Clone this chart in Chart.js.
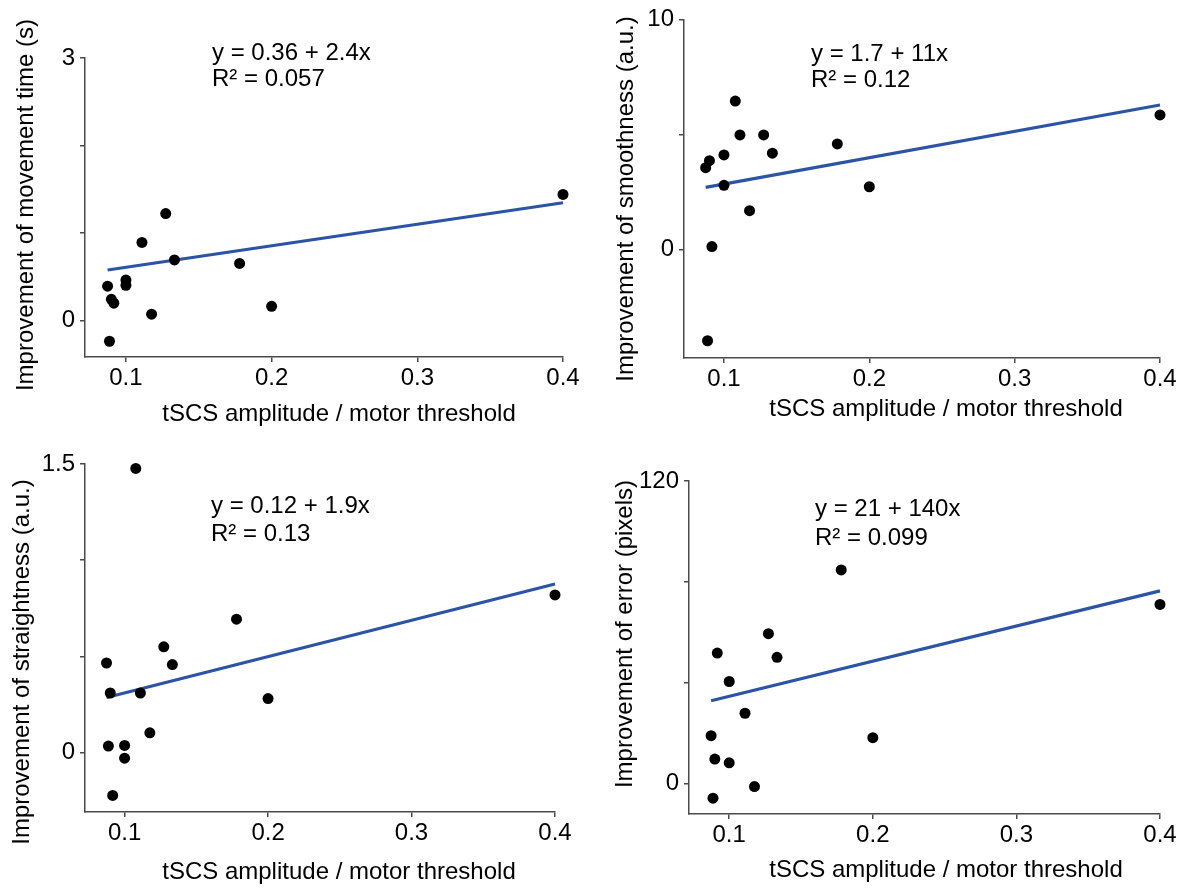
<!DOCTYPE html>
<html lang="en">
<head>
<meta charset="UTF-8">
<title>tSCS amplitude vs improvement</title>
<script src="https://cdn.jsdelivr.net/npm/chart.js@4"></script>
<style>
  body { margin: 0; background: #fff; }
  #wrap { position: relative; width: 1182px; height: 888px; overflow: hidden; font-family: 'Liberation Sans', Arial, sans-serif; color: #000; }
  canvas { position: absolute; }
  .txt { position: absolute; font-size: 24px; line-height: 24px; white-space: nowrap; }
  .ytitle { position: absolute; font-size: 24px; line-height: 24px; white-space: nowrap; transform: translate(-50%, -50%) rotate(-90deg); }
  .xtitle { position: absolute; font-size: 24px; line-height: 24px; white-space: nowrap; transform: translate(-50%, -50%); }
</style>
</head>
<body>
<div id="wrap">
  <canvas id="c1" width="591" height="444" style="left:0;top:0"></canvas>
  <canvas id="c2" width="591" height="444" style="left:591px;top:0"></canvas>
  <canvas id="c3" width="591" height="444" style="left:0;top:444px"></canvas>
  <canvas id="c4" width="591" height="444" style="left:591px;top:444px"></canvas>

  <div class="txt" style="left:212px;top:40px">y = 0.36 + 2.4x</div>
  <div class="txt" style="left:212px;top:66px">R² = 0.057</div>
  <div class="txt" style="left:811px;top:41px">y = 1.7 + 11x</div>
  <div class="txt" style="left:811px;top:67px">R² = 0.12</div>
  <div class="txt" style="left:211px;top:493px">y = 0.12 + 1.9x</div>
  <div class="txt" style="left:211px;top:521px">R² = 0.13</div>
  <div class="txt" style="left:815px;top:496px">y = 21 + 140x</div>
  <div class="txt" style="left:815px;top:525px">R² = 0.099</div>

  <div class="ytitle" style="left:25px;top:205px">Improvement of movement time (s)</div>
  <div class="ytitle" style="left:625px;top:199px">Improvement of smoothness (a.u.)</div>
  <div class="ytitle" style="left:21px;top:662px">Improvement of straightness (a.u.)</div>
  <div class="ytitle" style="left:624px;top:634px">Improvement of error (pixels)</div>

  <div class="xtitle" style="left:339px;top:413px">tSCS amplitude / motor threshold</div>
  <div class="xtitle" style="left:946px;top:408px">tSCS amplitude / motor threshold</div>
  <div class="xtitle" style="left:339px;top:871px">tSCS amplitude / motor threshold</div>
  <div class="xtitle" style="left:946px;top:869px">tSCS amplitude / motor threshold</div>
</div>

<script>
// same 14 participants in every panel, sorted by amplitude
const amplitude   = [0.0874, 0.0887, 0.0900, 0.0917, 0.100, 0.100, 0.1078, 0.111, 0.1176, 0.1273, 0.1333, 0.178, 0.200, 0.400];
const moveTime    = [0.39, -0.24, 0.24, 0.195, 0.46, 0.40, 3.16, 0.89, 0.07, 1.22, 0.69, 0.65, 0.16, 1.44];
const smoothness  = [3.56, -3.96, 3.86, 0.13, 4.11, 2.79, 6.45, 4.98, 1.69, 4.98, 4.19, 4.59, 2.73, 5.85];
const straightness = [0.465, 0.033, 0.309, -0.224, 0.036, -0.030, 1.477, 0.309, 0.102, 0.549, 0.457, 0.693, 0.280, 0.819];
const errorPx     = [18.9, -5.9, 9.6, 51.7, 40.4, 8.1, 123.5, 27.8, -1.3, 59.4, 50.0, 84.7, 18.1, 71.0];

// regression lines as drawn (intercept, slope)
const fitIntercept = [0.36, 1.7, 0.12, 20.6];
const fitSlope     = [2.46, 11.45, 1.89, 139.4];

const xTicks = [0.1, 0.2, 0.3, 0.4];
const xTickLabels = ['0.1', '0.2', '0.3', '0.4'];
const yTicks1 = [0, 1, 2, 3],        yTickLabels1 = ['0', '', '', '3'];
const yTicks2 = [0, 5, 10],          yTickLabels2 = ['0', '', '10'];
const yTicks3 = [0, 0.5, 1, 1.5],    yTickLabels3 = ['0', '', '', '1.5'];
const yTicks4 = [0, 40, 80, 120],    yTickLabels4 = ['0', '', '', '120'];

const AXIS = '#4a4a4a';
const BLUE = '#2c54a5';
const FONT = { family: "'Liberation Sans', Arial, sans-serif", size: 24 };

function makePanel(id, ys, k, yTicks, yLabels, box) {
  const pts = amplitude.map((x, i) => ({ x, y: ys[i] }));
  const x0 = Math.min(...amplitude), x1 = Math.max(...amplitude);
  const fit = [x0, x1].map(x => ({ x, y: fitIntercept[k] + fitSlope[k] * x }));
  const H = 444, W = 591;

  new Chart(document.getElementById(id), {
    type: 'scatter',
    data: {
      datasets: [
        { data: pts, backgroundColor: '#000', borderWidth: 0, pointRadius: 5.5, clip: false },
        { type: 'line', data: fit, borderColor: BLUE, borderWidth: 3.2, pointRadius: 0, fill: false, clip: false }
      ]
    },
    options: {
      responsive: false,
      animation: false,
      devicePixelRatio: 1,
      events: [],
      layout: { autoPadding: false, padding: { left: 0, top: box.top, right: W - box.right, bottom: 0 } },
      plugins: { legend: { display: false }, tooltip: { enabled: false } },
      scales: {
        x: {
          type: 'linear', min: box.xmin, max: 0.4,
          afterBuildTicks: s => { s.ticks = xTicks.map(v => ({ value: v })); },
          afterFit: s => { s.height = H - box.bottom; },
          border: { display: true, color: AXIS, width: 1.5 },
          grid: { drawOnChartArea: false, drawTicks: true, tickLength: 5, color: AXIS, lineWidth: 1.5 },
          ticks: { font: FONT, color: '#000', padding: 2, maxRotation: 0, callback: (v, i) => xTickLabels[i] }
        },
        y: {
          type: 'linear', min: box.ymin, max: yTicks[yTicks.length - 1],
          afterBuildTicks: s => { s.ticks = yTicks.map(v => ({ value: v })); },
          afterFit: s => { s.width = box.left; },
          border: { display: true, color: AXIS, width: 1.5 },
          grid: { drawOnChartArea: false, drawTicks: true, tickLength: 5, color: AXIS, lineWidth: 1.5 },
          ticks: { font: FONT, color: '#000', padding: 5, callback: (v, i) => yLabels[i] }
        }
      }
    }
  });
}

makePanel('c1', moveTime,     0, yTicks1, yTickLabels1, { left: 85, top: 58, right: 563, bottom: 357, xmin: 0.0719, ymin: -0.42 });
makePanel('c2', smoothness,   1, yTicks2, yTickLabels2, { left: 93, top: 15, right: 569, bottom: 358, xmin: 0.0725, ymin: -4.71 });
makePanel('c3', straightness, 2, yTicks3, yTickLabels3, { left: 85, top: 20, right: 555, bottom: 368, xmin: 0.0724, ymin: -0.31 });
makePanel('c4', errorPx,      3, yTicks4, yTickLabels4, { left: 98, top: 37, right: 569, bottom: 370, xmin: 0.0720, ymin: -12.2 });
</script>
</body>
</html>
